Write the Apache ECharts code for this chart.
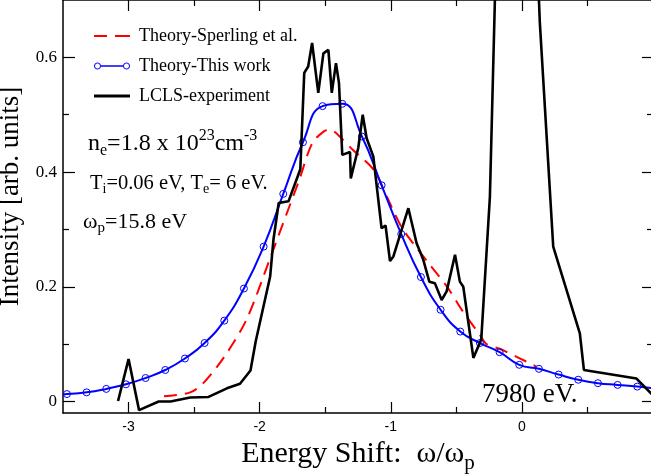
<!DOCTYPE html>
<html><head><meta charset="utf-8">
<script src="https://cdn.jsdelivr.net/npm/echarts@6/dist/echarts.min.js"></script>
<style>html,body{margin:0;padding:0;background:#fff}#c{width:651px;height:476px}</style>
</head><body><div id="c"></div>
<script>
// ---- data ----
const sperlingX = [-2.73,-2.53,-2.43,-2.27,-2.10,-1.92,-1.79,-1.70,-1.60,-1.51,-1.46,-1.39,-1.29,-1.13,-1.03,-0.92,-0.83,-0.70,-0.57,-0.45,-0.32,-0.27,-0.17,-0.04,0.11];
const sperlingY = [0.009,0.016,0.032,0.078,0.143,0.250,0.330,0.385,0.450,0.471,0.474,0.462,0.439,0.404,0.357,0.305,0.276,0.238,0.200,0.157,0.116,0.100,0.092,0.078,0.061];

const thisWorkX = [-3.50,-3.47,-3.32,-3.17,-3.02,-2.87,-2.72,-2.57,-2.42,-2.27,-2.12,-1.97,-1.82,-1.67,-1.52,-1.37,-1.22,-1.07,-0.92,-0.77,-0.62,-0.47,-0.32,-0.17,-0.02,0.13,0.28,0.43,0.58,0.73,0.88,1.00];
const thisWorkY = [0.012,0.013,0.016,0.022,0.030,0.041,0.055,0.075,0.102,0.141,0.197,0.270,0.362,0.452,0.515,0.519,0.462,0.377,0.292,0.217,0.160,0.122,0.102,0.086,0.064,0.057,0.047,0.038,0.032,0.029,0.026,0.023];

const lclsX = [-3.08,-3.00,-2.92,-2.77,-2.68,-2.53,-2.39,-2.25,-2.15,-2.07,-2.03,-1.96,-1.92,-1.895,-1.855,-1.78,-1.69,-1.66,-1.63,-1.60,-1.553,-1.514,-1.476,-1.45,-1.418,-1.395,-1.37,-1.311,-1.305,-1.248,-1.214,-1.184,-1.133,-1.07,-1.04,-1.006,-0.98,-0.866,-0.803,-0.752,-0.706,-0.663,-0.612,-0.574,-0.51,-0.473,-0.447,-0.37,-0.31,-0.244,-0.197,0.116,0.137,0.239,0.442,0.473,0.874,0.99];
const lclsY = [0.001,0.074,-0.015,0.000,0.000,0.007,0.008,0.023,0.031,0.054,0.105,0.177,0.218,0.282,0.346,0.349,0.405,0.573,0.584,0.625,0.538,0.607,0.613,0.538,0.590,0.555,0.430,0.435,0.389,0.442,0.500,0.459,0.427,0.302,0.307,0.245,0.253,0.337,0.276,0.247,0.209,0.206,0.177,0.192,0.256,0.209,0.200,0.076,0.108,0.357,0.780,0.780,0.660,0.270,0.119,0.055,0.040,0.013];

const xMajorTicks = [-3,-2,-1,0];
const xMinorTicks = [-2.5,-1.5,-0.5,0.5];
const yMajorTicks = [0,0.2,0.4,0.6];
const yMinorTicks = [0.1,0.3,0.5];

// ---- chart ----
const SERIF = 'Liberation Serif';
const SANS = 'Liberation Sans';
const zip = (xs, ys) => xs.map((x, i) => [x, ys[i]]);
const X_MIN = -3.5, X_MAX = 1.0, Y_MIN = -0.02, Y_MAX = 0.70;
const lineBlack = {color:'#000', width:1.5};

function xAx(pos, ticks, len, labels, extra) {
  return Object.assign({
    type:'value', min:X_MIN, max:X_MAX, position:pos,
    axisLine:{show:true, onZero:false, lineStyle:lineBlack},
    axisTick:{show:true, inside:true, length:len, customValues:ticks, lineStyle:{color:'#000', width:1.2}},
    axisLabel: labels ? {show:true, customValues:labels, fontFamily:SANS, fontSize:14, color:'#000', margin:7} : {show:false},
    splitLine:{show:false}, minorTick:{show:false}
  }, extra || {});
}
function yAx(pos, ticks, len, labels, extra) {
  return Object.assign({
    type:'value', min:Y_MIN, max:Y_MAX, position:pos,
    axisLine:{show:true, onZero:false, lineStyle:lineBlack},
    axisTick:{show:true, inside:true, length:len, customValues:ticks, lineStyle:{color:'#000', width:1.2}},
    axisLabel: labels ? {show:true, customValues:labels, fontFamily:SERIF, fontSize:17, color:'#000', margin:6} : {show:false},
    splitLine:{show:false}, minorTick:{show:false}
  }, extra || {});
}

// legend icon geometry (36 units wide)
function ring(cx, cy, r, ccw) {
  const n = 20, pts = [];
  for (let i = 0; i < n; i++) {
    const a = (ccw ? -1 : 1) * i * 2 * Math.PI / n;
    pts.push((cx + r * Math.cos(a)).toFixed(3) + ',' + (cy + r * Math.sin(a)).toFixed(3));
  }
  return 'M' + pts.join(' L') + ' Z';
}
const blueIcon = 'path://' + ring(3.5,3.5,3.5,false) + ' ' + ring(3.5,3.5,2.5,true) + ' M7,2.8 L29,2.8 L29,4.2 L7,4.2 Z ' + ring(32.5,3.5,3.5,false) + ' ' + ring(32.5,3.5,2.5,true);
const redIcon = 'path://M0,0 L13,0 L13,2 L0,2 Z M21,0 L36,0 L36,2 L21,2 Z';
const blackIcon = 'path://M0,0 L36,0 L36,3 L0,3 Z';

const chart = echarts.init(document.getElementById('c'), null, {renderer:'canvas'});
const lastBlue = thisWorkX.length - 1;
chart.setOption({
  animation:false,
  backgroundColor:'#fff',
  textStyle:{fontFamily:SERIF},
  grid:{left:63, right:-2, top:0, bottom:63, containLabel:false, outerBoundsMode:'none'},
  xAxis:[
    xAx('bottom', xMajorTicks, 11, xMajorTicks, {
      name:'{m|Energy Shift:  ω/ω}{s|p}', nameLocation:'middle', nameGap:17,
      nameTextStyle:{rich:{m:{fontFamily:SERIF, fontSize:30, color:'#000'}, s:{fontFamily:SERIF, fontSize:21, color:'#000', padding:[20,0,0,0]}}}
    }),
    xAx('bottom', xMinorTicks, 6, null, {axisLine:{show:false, onZero:false}}),
    xAx('top', xMajorTicks, 11, null),
    xAx('top', xMinorTicks, 6, null, {axisLine:{show:false, onZero:false}})
  ],
  yAxis:[
    yAx('left', yMajorTicks, 12, yMajorTicks, {
      name:'Intensity [arb. units]', nameLocation:'middle', nameGap:26,
      nameTextStyle:{fontFamily:SERIF, fontSize:27, color:'#000', padding:[0,0,0,20]}
    }),
    yAx('left', yMinorTicks, 6, null, {axisLine:{show:false, onZero:false}}),
    yAx('right', yMajorTicks, 11, null),
    yAx('right', yMinorTicks, 6, null, {axisLine:{show:false, onZero:false}})
  ],
  legend:{
    orient:'vertical', left:89, top:22, itemWidth:36, itemHeight:10, itemGap:12,
    textStyle:{fontFamily:SERIF, fontSize:18, color:'#000', padding:[0,0,0,4]},
    data:[
      {name:'Theory-Sperling et al.', icon:redIcon, itemStyle:{color:'#ff0000', borderWidth:0}},
      {name:'Theory-This work', icon:blueIcon, itemStyle:{color:'#0000ff', borderWidth:0}},
      {name:'LCLS-experiment', icon:blackIcon, itemStyle:{color:'#000000', borderWidth:0}}
    ]
  },
  series:[
    {type:'line', name:'Theory-Sperling et al.', data:zip(sperlingX, sperlingY), symbol:'none', smooth:0.3,
     lineStyle:{color:'#ff0000', width:2, type:[13,8]}, itemStyle:{color:'#ff0000'}, z:2},
    {type:'line', name:'Theory-This work', data:zip(thisWorkX, thisWorkY), smooth:true,
     symbol:(v, p) => (p.dataIndex === 0 || p.dataIndex === lastBlue) ? 'none' : 'circle',
     symbolSize:7, showAllSymbol:true,
     lineStyle:{color:'#0000ff', width:2}, itemStyle:{color:'rgba(0,0,0,0)', borderColor:'#0000ff', borderWidth:1}, z:3},
    {type:'line', name:'LCLS-experiment', data:zip(lclsX, lclsY), symbol:'none',
     lineStyle:{color:'#000', width:2.6}, itemStyle:{color:'#000'}, z:4}
  ],
  graphic:[
    {type:'text', left:88, top:128, style:{
      text:'{m|n}{s|e}{m|=1.8 x 10}{u|23}{m|cm}{u|-3}',
      rich:{m:{fontFamily:SERIF, fontSize:24, fill:'#000'}, s:{fontFamily:SERIF, fontSize:16, fill:'#000', padding:[14,0,0,0]}, u:{fontFamily:SERIF, fontSize:16, fill:'#000', padding:[0,0,16,0]}}
    }},
    {type:'text', left:90, top:173, style:{
      text:'{m|T}{s|i}{m|=0.06 eV, T}{s|e}{m|= 6 eV.}',
      rich:{m:{fontFamily:SERIF, fontSize:20.5, fill:'#000'}, s:{fontFamily:SERIF, fontSize:14, fill:'#000', padding:[12,0,0,0]}}
    }},
    {type:'text', left:83, top:211, style:{
      text:'{m|ω}{s|p}{m|=15.8 eV}',
      rich:{m:{fontFamily:SERIF, fontSize:22, fill:'#000'}, s:{fontFamily:SERIF, fontSize:15, fill:'#000', padding:[12,0,0,0]}}
    }},
    {type:'text', left:482, top:381, style:{text:'7980 eV.', fontFamily:SERIF, fontSize:27, fill:'#000'}}
  ]
});
</script></body></html>
